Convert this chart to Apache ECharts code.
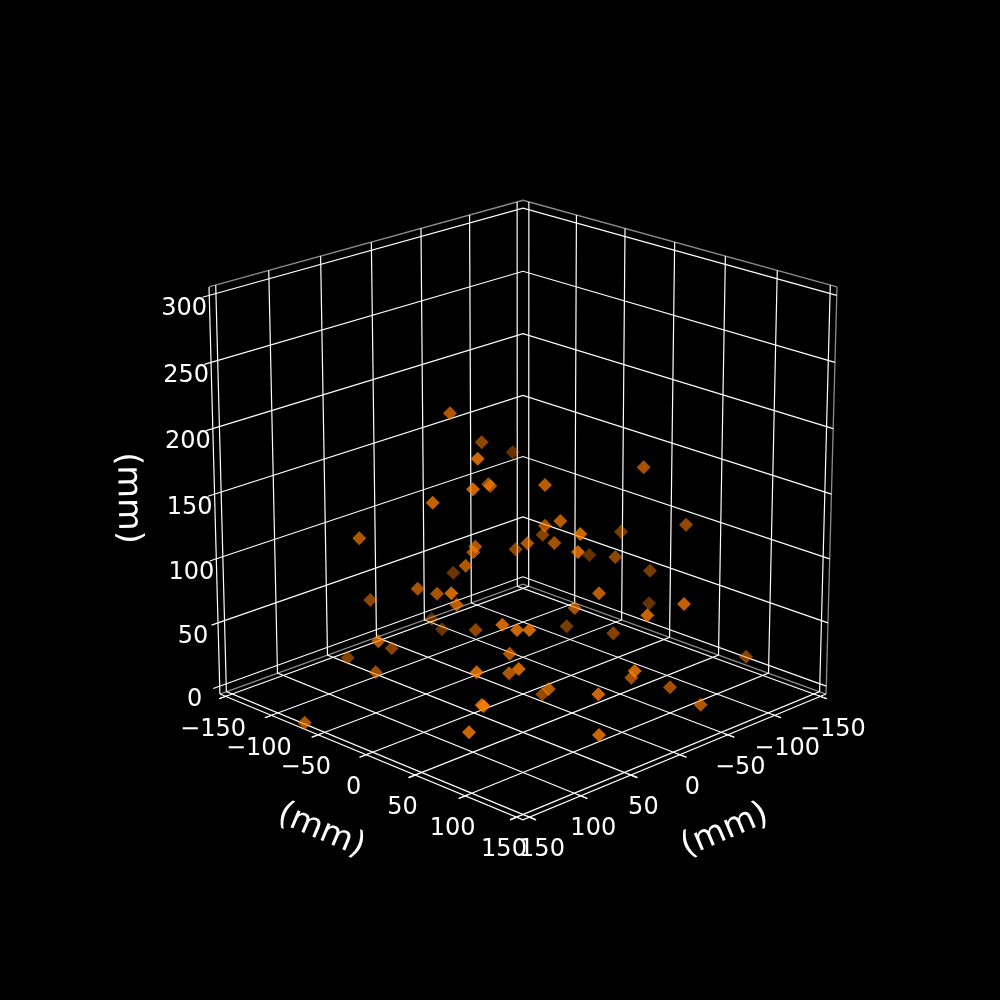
<!DOCTYPE html>
<html><head><meta charset="utf-8">
<style>html,body{margin:0;padding:0;background:#000}#c{width:1000px;height:1000px}</style>
<script src="https://cdn.jsdelivr.net/npm/echarts@6/dist/echarts.min.js"></script>
</head><body><div id="c"></div>
<script>
// Axis ticks in mm
const xTicks = [-150, -100, -50, 0, 50, 100, 150];
const yTicks = [-150, -100, -50, 0, 50, 100, 150];
const zTicks = [0, 50, 100, 150, 200, 250, 300];
const axisName = '(mm)';
// Markers as read on the picture plane (horizontal, vertical) with depth shade
const pointU = [450,481.7,512.7,477.7,488.3,490.3,473,432.7,359.3,475.3,473.3,515.7,527.3,465.7,453.3,
  643.7,545,560.3,545,542.7,580.3,621,686,554.3,578,589.3,615.3,650,599,649,684,574.7,647.3,
  417.7,437,451.3,370.3,456.7,431.7,442,475.7,502.3,517,529.3,378.3,391.7,347.7,375.7,509.7,476.7,518.7,509,481.7,483.7,469,304.7,
  566.7,613.3,746,634.7,631.3,670,548.7,542.3,598.3,700.7,599];
const pointV = [413.3,442.3,452.3,458.7,484.3,486,489.3,502.7,538.3,546.7,552.3,549.3,543.3,565.7,572.7,
  467.3,485,521,525.7,534.7,534,531.7,524.7,543,552,555,557,570.7,593.3,603.3,604,608,615.3,
  588.7,593.7,593.3,600,604.7,619,629.3,630,624.7,630,630,641.3,648.3,657.7,672.3,653.7,672.3,669,673.3,705,706,732.3,722.7,
  626.3,633.3,656.7,671,677.7,687.3,689,694.3,694.3,704.7,735];
const pointShade = [.86,.7,.5,1,.8,.8,1,.95,.86,.86,.86,.7,.86,.86,.52,
  .82,.9,.9,.82,.66,1,.6,.72,.8,1,.5,.7,.6,.9,.5,.95,.82,.98,
  .82,.82,1,.7,.9,.48,.52,.7,1,1,1,.9,.66,.66,.76,.86,1,1,.86,1,1,1,.86,
  .6,.66,.66,1,.8,.8,.9,.72,1,.86,1];

const BOX = 156.25, ZMID = 150, ZHALF = 156.25;
const CX = 523, CY = 494.1, K = 218.1, ZS = 0.9927, D = 19.2;
const E = 20 * Math.PI / 180;
function project(x, y, z) {
  const bx = x / BOX, by = y / BOX, bz = (z - ZMID) / ZHALF * ZS;
  const u = (bx + by) / Math.SQRT2, v = (by - bx) / Math.SQRT2;
  const up = bz * Math.cos(E) - u * Math.sin(E);
  const depth = u * Math.cos(E) + bz * Math.sin(E);
  const f = D / (D - depth);
  return [CX + K * v * f, CY - K * up * f];
}
const zLo = ZMID - ZHALF, zHi = ZMID + ZHALF;
const gridPaths = [], panePaths = [], axisPaths = [];
const TICK_OUT = BOX * 1.04, TICK_IN = BOX * 0.985;
yTicks.forEach(y => {
  gridPaths.push([project(TICK_OUT, y, zLo), project(-BOX, y, zLo), project(-BOX, y, zHi)]);
  axisPaths.push([project(TICK_IN, y, zLo), project(TICK_OUT, y, zLo)]);
});
xTicks.forEach(x => {
  gridPaths.push([project(x, TICK_OUT, zLo), project(x, -BOX, zLo), project(x, -BOX, zHi)]);
  axisPaths.push([project(x, TICK_IN, zLo), project(x, TICK_OUT, zLo)]);
});
zTicks.forEach(z => {
  gridPaths.push([project(TICK_OUT, -BOX, z), project(-BOX, -BOX, z), project(-BOX, BOX, z)]);
});
panePaths.push([project(BOX, -BOX, zHi), project(-BOX, -BOX, zHi), project(-BOX, BOX, zHi)]);
panePaths.push([project(BOX, -BOX, zLo), project(-BOX, -BOX, zLo), project(-BOX, BOX, zLo)]);
panePaths.push([project(-BOX, BOX, zLo), project(-BOX, BOX, zHi)]);
axisPaths.push([project(BOX, -BOX, zLo), project(BOX, BOX, zLo), project(-BOX, BOX, zLo)]);
axisPaths.push([project(BOX, -BOX, zLo), project(BOX, -BOX, zHi)]);

const texts = [];
const fmt = t => String(t).replace('-', '\u2212');
yTicks.forEach(y => { const p = project(BOX, y, zLo); texts.push({ p: [p[0] - 12.5, p[1] + 33], t: fmt(y), s: 24, r: 0 }); });
xTicks.forEach(x => { const p = project(x, BOX, zLo); texts.push({ p: [p[0] + 12.5, p[1] + 33], t: fmt(x), s: 24, r: 0 }); });
zTicks.forEach(z => { const p = project(BOX, -BOX, z); texts.push({ p: [p[0] - 25, p[1] + 13.5], t: fmt(z), s: 24, r: 0 }); });
const pL = project(BOX, 0, zLo), pR = project(0, BOX, zLo), pZ = project(BOX, -BOX, ZMID);
texts.push({ p: [pL[0] - 45, pL[1] + 76], t: axisName, s: 33.5, r: -23 * Math.PI / 180 });
texts.push({ p: [pR[0] + 45, pR[1] + 76], t: axisName, s: 33.5, r: 23 * Math.PI / 180 });
texts.push({ p: [pZ[0] - 87, pZ[1] + 4], t: axisName, s: 33.5, r: -89 * Math.PI / 180 });

const pathSeries = (paths, color, width) => paths.map(d => ({
  type: 'line', data: d, symbol: 'none', silent: true, animation: false, z: 1,
  lineStyle: { color, width, cap: 'butt', join: 'miter' }
}));
const order = pointU.map((_, i) => i).sort((a, b) => pointShade[a] - pointShade[b]);

const chart = echarts.init(document.getElementById('c'), null, { width: 1000, height: 1000 });
chart.setOption({
  backgroundColor: '#000',
  animation: false,
  grid: { left: 0, right: 0, top: 0, bottom: 0 },
  xAxis: { type: 'value', min: 0, max: 1000, show: false },
  yAxis: { type: 'value', min: 0, max: 1000, inverse: true, show: false },
  series: [
    ...pathSeries(panePaths, '#8c8c8c', 1.3),
    ...pathSeries(gridPaths, '#ffffff', 1.2),
    ...pathSeries(axisPaths, '#ffffff', 1.2),
    {
      type: 'scatter', symbol: 'diamond', symbolSize: 14, z: 3, silent: true,
      data: order.map(i => ({
        value: [pointU[i], pointV[i]],
        itemStyle: { color: `rgba(255,127,0,${pointShade[i]})`, borderWidth: 0 }
      }))
    },
    {
      type: 'custom', z: 4, silent: true, coordinateSystem: 'cartesian2d',
      data: texts.map(t => t.p),
      encode: { x: 0, y: 1 },
      renderItem: (params, api) => {
        const t = texts[params.dataIndex];
        const c = api.coord([api.value(0), api.value(1)]);
        return {
          type: 'text', x: c[0], y: c[1], rotation: t.r,
          style: { text: t.t, fill: '#fff', font: `${t.s}px "DejaVu Sans"`, align: 'center', verticalAlign: 'middle' }
        };
      }
    }
  ]
});
</script></body></html>
